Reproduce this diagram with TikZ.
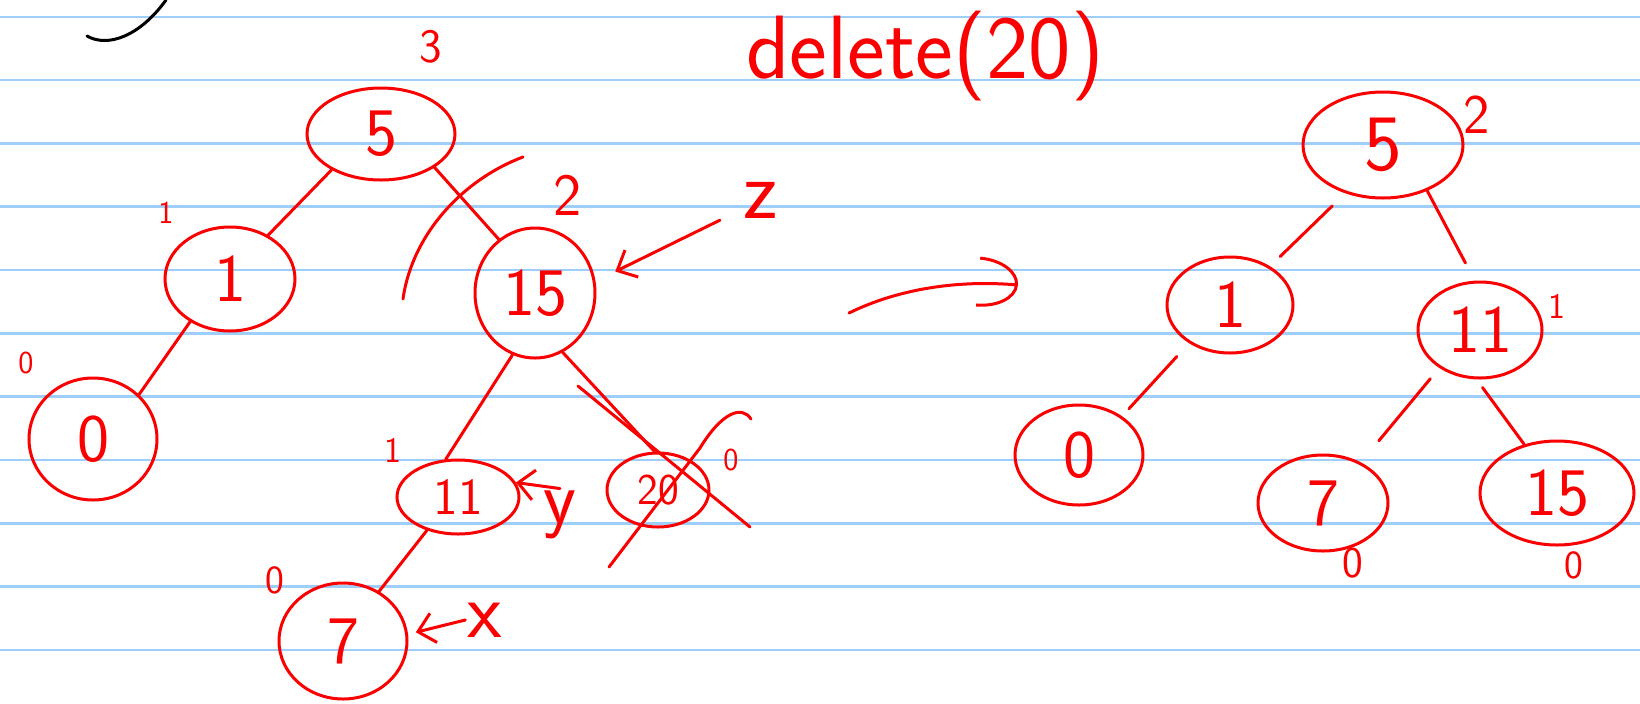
\documentclass[tikz,border=0pt]{standalone}
\usepackage{fontspec}
\usepackage{tikz}
\usetikzlibrary{positioning,arrows.meta,shapes.geometric}
\definecolor{ink}{RGB}{250,0,0}
\definecolor{paper}{RGB}{158,206,250}
\tikzset{
  nd/.style={ellipse,draw=ink,line width=1.5pt,inner sep=0pt,text=ink,
             font=\sffamily\fontsize{34}{34}\selectfont},
  sz/.style 2 args={minimum width=#1pt,minimum height=#2pt},
  big/.style={font=\sffamily\fontsize{#1}{#1}\selectfont},
  hgt/.style={text=ink,inner sep=1pt,font=\sffamily\fontsize{#1}{#1}\selectfont},
  hgt/.default=18,
  edge/.style={draw=ink,line width=1.5pt,line cap=round},
  arw/.style={edge,-{Straight Barb[length=8pt,width=15pt]}},
  scrawl/.style={draw=ink,line width=1.5pt,line cap=round},
}

\begin{document}
\begin{tikzpicture}[x=0.5pt,y=-0.5pt]
\useasboundingbox (0,0) rectangle (1640,703);
% ruled paper
\foreach \k in {0,...,10}
  \draw[paper,line width=1.2pt] (0,16.7+63.33*\k) -- (1640,16.7+63.33*\k);
\draw[line width=1.5pt,line cap=round] (87,36) .. controls (108,48) and (140,36) .. (166,0);

% title
\node[text=ink,anchor=base west,big=45,inner sep=0pt] (title) at (746,78) {delete(20)};

% Left tree (before)
\node[nd,sz={74}{46}] (l5)  at (381,134) {5};
\node[nd,sz={65}{52}] (l1)  at (230,279) {1};
\node[nd,sz={60}{65}] (l15) at (535,293) {15};
\node[nd,sz={64}{61}] (l0)  at (93,439)  {0};
\node[nd,sz={61}{37},big=26] (l11) at (458,497) {11};
\node[nd,sz={51}{37},big=22] (l20) at (658,490) {20};
\node[nd,sz={64}{58}] (l7)  at (343,641) {7};

% heights and z/y/x marks
\node[hgt=24] (h5)  at (431,47)  {3};
\node[hgt=16] (h1)  at (166,213) {1};
\node[hgt=30] (h15) at (568,195) {2};
\node[hgt=16] (h0)  at (26,363)  {0};
\node[hgt]    (h11) at (393,450) {1};
\node[hgt=16] (h20) at (731,460) {0};
\node[hgt=20] (h7)  at (275,580) {0};
\node[hgt=42] (zl)  at (761,200) {z};
\node[hgt=38] (yl)  at (560,515) {y};
\node[hgt=40] (xl)  at (485,620) {x};

% Right tree (after)
\node[nd,sz={80}{53},big=40] (r5) at (1383,145) {5};
\node[nd,sz={63}{48}] (r1)  at (1230,305) {1};
\node[nd,sz={62}{48}] (r11) at (1480,330) {11};
\node[nd,sz={64}{50}] (r0)  at (1079,455) {0};
\node[nd,sz={65}{48}] (r7)  at (1323,503) {7};
\node[nd,sz={77}{52}] (r15) at (1557,493) {15};

\node[hgt=28] (hr5)  at (1477,115) {2};
\node[hgt]    (hr11) at (1557,306) {1};
\node[hgt=22] (hr7)  at (1353,563) {0};
\node[hgt=20] (hr15) at (1574,565) {0};

% Edges
\draw[edge] (l5.216)  -- (l1.49);
\draw[edge] (l5.328)  -- (l15.124);
\draw[edge] (l1.227)  -- (l0.44);
\draw[edge] (l15.250) -- (l11.108);
\draw[edge] (l15.295) -- (l20.95);
\draw[edge] (l11.227) -- (l7.54);

\draw[edge,shorten <=9pt,shorten >=7pt] (r5.232)  -- (r1.44);
\draw[edge,shorten >=10pt]              (r5.314)  -- (r11.96);
\draw[edge,shorten <=9pt,shorten >=5pt] (r1.223)  -- (r0.42);
\draw[edge,shorten <=7pt,shorten >=14pt] (r11.223) -- (r7.47);
\draw[edge,shorten <=5pt]               (r11.266) -- (r15.124);

% marks
\draw[arw,shorten <=12pt,shorten >=11pt] (zl) -- (l15.11);
\draw[arw] (yl.north) -- (l11.14);
\draw[arw,shorten >=4pt] (xl.west) -- (l7.6);

\draw[scrawl] (523,157) .. controls (462,180) and (412,235) .. (403,299);
\draw[scrawl] (578,386) -- (750,527);
\draw[scrawl] (751,419) .. controls (742,405) and (722,412) .. (700,448) -- (609,567);

% before -> after
\coordinate (go)  at (849,313);
\coordinate (fwd) at (1018,285);
\draw[edge,-{Arc Barb[length=20pt,width=25pt]}] (go) .. controls (900,288) and (960,280) .. (fwd);

\end{tikzpicture}
\end{document}
